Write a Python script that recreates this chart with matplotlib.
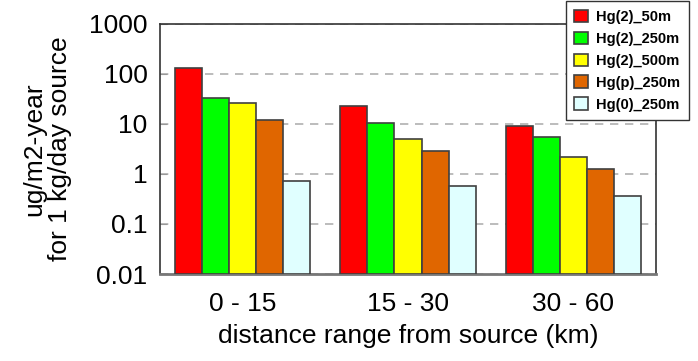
import numpy as np
import matplotlib
matplotlib.use("Agg")
import matplotlib.pyplot as plt

plt.rcParams['font.family'] = ['Liberation Sans', 'DejaVu Sans']

categories = ["0 - 15", "15 - 30", "30 - 60"]
series_names = ["Hg(2)_50m", "Hg(2)_250m", "Hg(2)_500m", "Hg(p)_250m", "Hg(0)_250m"]
colors = ["#ff0000", "#00ff00", "#ffff00", "#e06600", "#e0ffff"]
hg2_50 = [132, 22.9, 9.1]
hg2_250 = [33.6, 10.6, 5.5]
hg2_500 = [26.7, 5.0, 2.2]
hgp_250 = [12.0, 2.92, 1.26]
hg0_250 = [0.72, 0.56, 0.36]
series = [hg2_50, hg2_250, hg2_500, hgp_250, hg0_250]

fig = plt.figure(figsize=(6.98, 3.61), dpi=100)
ax = fig.add_axes([160/698, 1 - 274/361, 496/698, 250/361])

x = np.arange(len(categories))
w = 0.1636
for i, (vals, c, name) in enumerate(zip(series, colors, series_names)):
    ax.bar(x + (i - 2) * w, vals, width=w, color=c, edgecolor="#404040",
           linewidth=1.2, label=name, zorder=3, bottom=0.01)

ax.set_yscale("log")
ax.set_ylim(0.01, 1000)
ax.set_xlim(-0.5, 2.5)
ax.set_yticks([0.01, 0.1, 1, 10, 100, 1000])
ax.set_yticklabels(["0.01", "0.1", "1", "10", "100", "1000"])
ax.minorticks_off()
ax.yaxis.grid(True, linestyle=(0, (5, 4)), color="#b0b0b0", linewidth=1.2, zorder=0)
ax.set_xticks(x)
ax.set_xticklabels(categories)
ax.tick_params(axis="y", direction="in", length=5, color="#999999", labelsize=19, pad=9)
ax.tick_params(axis="x", length=0, labelsize=19, pad=13)
for s in ax.spines.values():
    s.set_color("#333333")
    s.set_linewidth(1.2)
ax.spines["bottom"].set_color("#777777")
ax.spines["bottom"].set_linewidth(2)

ax.set_xlabel("distance range from source (km)", fontsize=19, labelpad=6)
ax.set_ylabel("ug/m2-year\nfor 1 kg/day source", fontsize=19, linespacing=1.1)
ax.yaxis.set_label_coords(-0.178, 0.5)

leg = fig.legend(loc="upper right", bbox_to_anchor=(689/698, 1 - 1/361),
                 prop={"weight": "bold", "size": 10.5}, frameon=True, fancybox=False,
                 edgecolor="#333333", framealpha=1, handlelength=0.95, handleheight=0.95,
                 handletextpad=0.55, borderpad=0.6, labelspacing=0.52, borderaxespad=0)
leg.get_frame().set_linewidth(1.0)

fig.savefig("out.png", dpi=100)
